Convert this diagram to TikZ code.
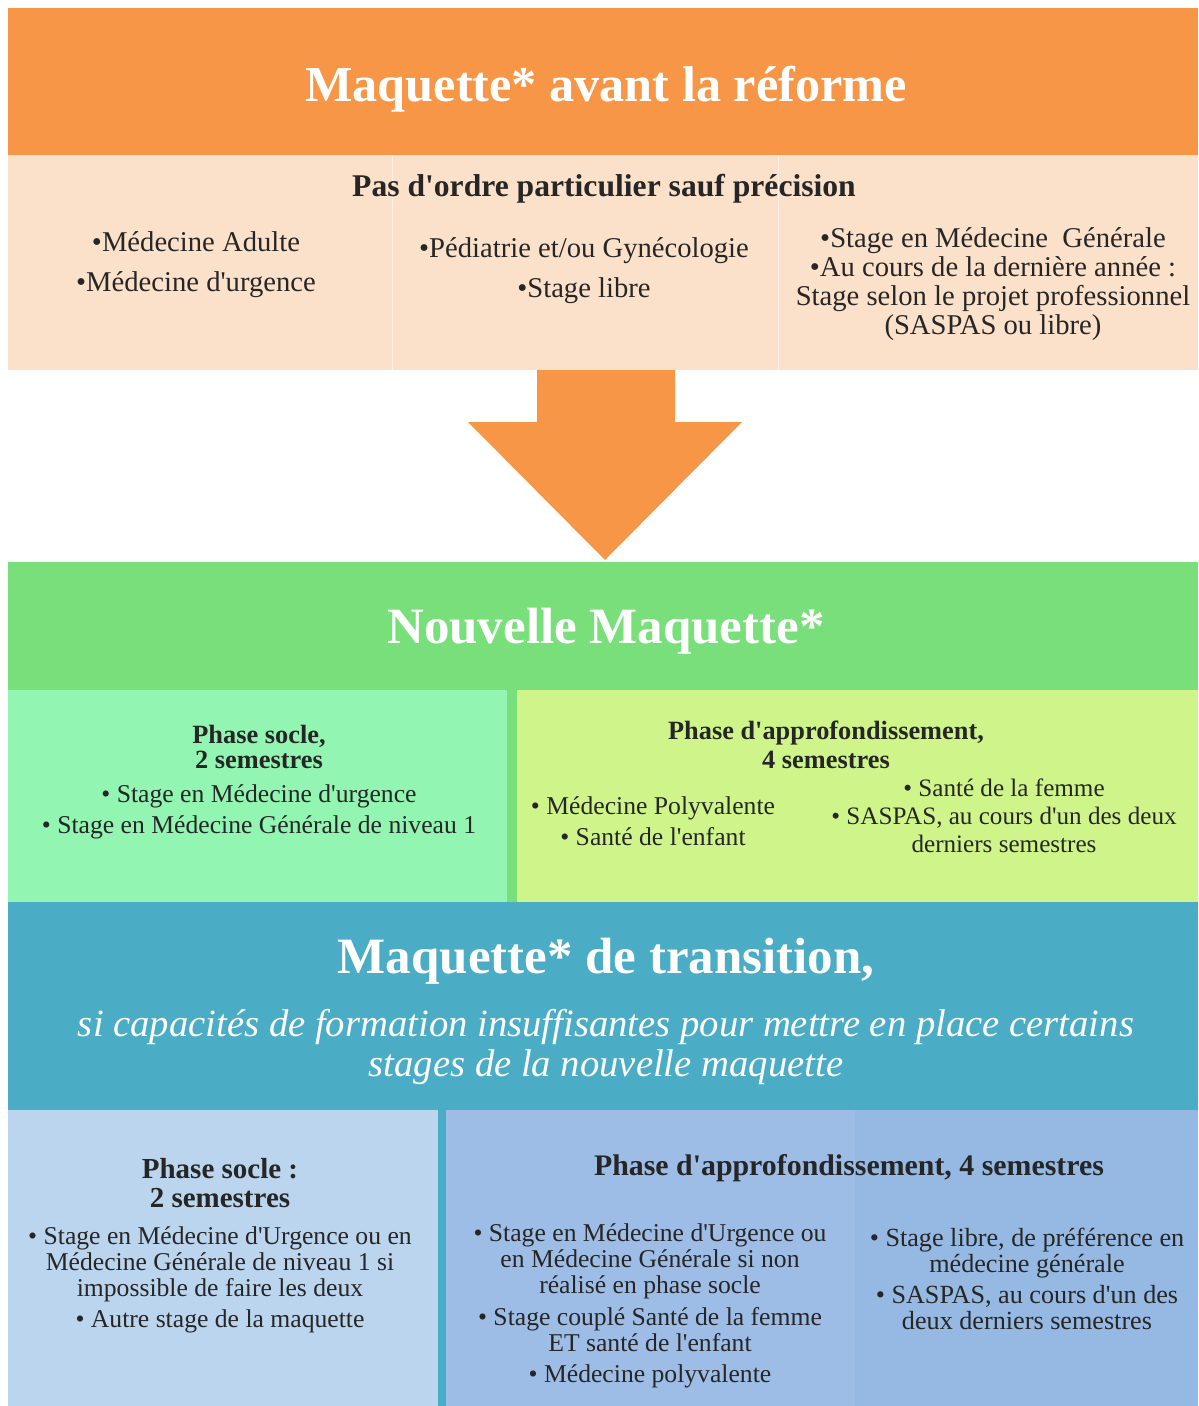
\documentclass[tikz,border=0pt]{standalone}
\usepackage{fontspec}
\setmainfont{Liberation Serif}[Ligatures=TeXOff]
\usetikzlibrary{positioning, calc}

\definecolor{orangeHead}{HTML}{F79646}
\definecolor{peachBody}{HTML}{FCE1CA}
\definecolor{greenHead}{HTML}{79DF7B}
\definecolor{mintBody}{HTML}{92F5B1}
\definecolor{limeBody}{HTML}{CFF58A}
\definecolor{tealHead}{HTML}{4BACC6}
\definecolor{skyBody}{HTML}{BBD5EE}
\definecolor{blueBody}{HTML}{9DBDE6}
\definecolor{blueBodyB}{HTML}{95B9E3}
\definecolor{textDark}{HTML}{262626}

\begin{document}
\begin{tikzpicture}[
				x=0.02cm, y=-0.02cm,
				% --- ESTILOS ---
				titletext/.style={
					text=white, inner sep=0pt, font=\fontsize{29}{32}\selectfont\bfseries
				},
				subtext/.style={
					text=white, inner sep=0pt, align=center, font=\fontsize{22}{22.7}\selectfont\itshape
				},
				headtext/.style={
					text=textDark, inner sep=0pt, align=center, font=\fontsize{16.5}{16.4}\selectfont\bfseries
				},
				bodytext/.style={
					text=textDark, inner sep=0pt, align=center, font=\fontsize{14.6}{14.8}\selectfont
				},
				bigtext/.style={
					text=textDark, inner sep=0pt, align=center, font=\fontsize{16.3}{16.4}\selectfont
				}
				]
				\useasboundingbox (0,0) rectangle (1198,1406);
				
				% ==========================================
				% 1. Maquette avant la reforme
				% ==========================================
				\fill [orangeHead] (8,8) rectangle (1198,155);
				\fill [peachBody] (8,155) rectangle (1198,370);
				\draw [peachBody!50!white, thin] (392,155) -- (392,370);
				\draw [peachBody!50!white, thin] (778,155) -- (778,370);
				
				\node [titletext, font=\fontsize{28.6}{32}\selectfont\bfseries] (avant_title) at (606,89) {Maquette* avant la réforme};
				\node [headtext, font=\fontsize{18}{18}\selectfont\bfseries] (avant_head) at (604,189) {Pas d'ordre particulier sauf précision};
				\node [bigtext] (avant_col1) at (196,265) {•Médecine Adulte\\[6.5pt]•Médecine d'urgence};
				\node [bigtext] (avant_col2) at (584,271) {•Pédiatrie et/ou Gynécologie\\[6.5pt]•Stage libre};
				\node [bigtext] (avant_col3) at (993,284) {•Stage en Médecine~ Générale\\•Au cours de la dernière année :\\Stage selon le projet professionnel\\(SASPAS ou libre)};
				
				% fleche
				\coordinate (arrow_top) at (606,370);
				\coordinate (arrow_tip) at (605,560);
				\fill [orangeHead] ($(arrow_top)+(-69,0)$) -- ($(arrow_top)+(69,0)$) -- ($(arrow_top)+(69,52)$)
					-- ($(arrow_top)+(136,52)$) -- (arrow_tip) -- ($(arrow_top)+(-138,52)$) -- ($(arrow_top)+(-69,52)$) -- cycle;
				
				% ==========================================
				% 2. Nouvelle maquette
				% ==========================================
				\fill [greenHead] (8,562) rectangle (1198,690);
				\fill [mintBody] (8,690) rectangle (507,902);
				\fill [greenHead] (507,690) rectangle (517,902);
				\fill [limeBody] (517,690) rectangle (1198,902);
				
				\node [titletext] (nouv_title) at (606,631) {Nouvelle Maquette*};
				\node [headtext, font=\fontsize{15}{14.4}\selectfont\bfseries] (socle_head) at (259,747) {Phase socle,\\2 semestres};
				\node [bodytext] (socle_list) at (259,812) {• Stage en Médecine d'urgence\\[3pt]• Stage en Médecine Générale de niveau 1};
				\node [headtext, font=\fontsize{15}{16.4}\selectfont\bfseries] (appro_head) at (826,745) {Phase d'approfondissement,\\4 semestres};
				\node [bodytext] (appro_list1) at (653,821) {• Médecine Polyvalente\\[3pt]• Santé de l'enfant};
				\node [bodytext, font=\fontsize{14.3}{14.8}\selectfont] (appro_list2) at (1004,816) {• Santé de la femme\\[1pt]• SASPAS, au cours d'un des deux\\[1pt]derniers semestres};
				
				% ==========================================
				% 3. Maquette de transition
				% ==========================================
				\fill [tealHead] (8,902) rectangle (1198,1110);
				\fill [skyBody] (8,1110) rectangle (438,1406);
				\fill [tealHead] (438,1110) rectangle (446,1406);
				\fill [blueBody] (446,1110) rectangle (855,1406);
				\fill [blueBodyB] (855,1110) rectangle (1198,1406);
				
				\node [titletext] (trans_title) at (606,961) {Maquette* de transition,};
				\node [subtext] (trans_sub) at (606,1047) {si capacités de formation insuffisantes pour mettre en place certains\\stages de la nouvelle maquette};
				
				\node [headtext] (tsocle_head) at (220,1183) {Phase socle :\\2 semestres};
				\node [bodytext] (tsocle_list) at (220,1280) {• Stage en Médecine d'Urgence ou en\\Médecine Générale de niveau 1 si\\impossible de faire les deux\\[3pt]• Autre stage de la maquette};
				\node [headtext, font=\fontsize{17}{17}\selectfont\bfseries] (tappro_head) at (849,1168) {Phase d'approfondissement, 4 semestres};
				\node [bodytext] (tappro_list1) at (650,1306) {• Stage en Médecine d'Urgence ou\\en Médecine Générale si non\\réalisé en phase socle\\[3pt]• Stage couplé Santé de la femme\\ET santé de l'enfant\\[3pt]• Médecine polyvalente};
				\node [bodytext, font=\fontsize{14.9}{14.8}\selectfont] (tappro_list2) at (1027,1279) {• Stage libre, de préférence en\\médecine générale\\[3pt]• SASPAS, au cours d'un des\\deux derniers semestres};
			\end{tikzpicture}
\end{document}
